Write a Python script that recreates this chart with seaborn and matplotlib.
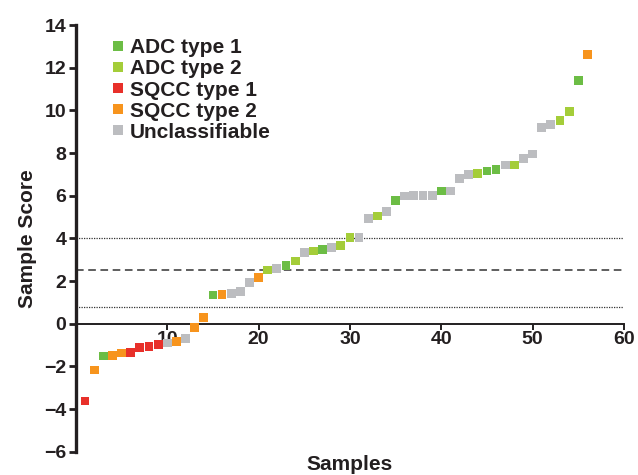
import matplotlib
matplotlib.use("Agg")
import matplotlib.pyplot as plt
import numpy as np
import pandas as pd
import seaborn as sns

SAMPLE_SCORES = [
    -3.62, -2.17, -1.51, -1.47, -1.37, -1.33, -1.12, -1.05, -0.98, -0.90,
    -0.85, -0.68, -0.19, 0.31, 1.35, 1.36, 1.42, 1.50, 1.92, 2.16,
    2.52, 2.60, 2.72, 2.94, 3.35, 3.41, 3.50, 3.56, 3.66, 4.05,
    4.06, 4.94, 5.05, 5.28, 5.78, 5.99, 6.02, 6.02, 6.02, 6.22,
    6.22, 6.80, 7.00, 7.05, 7.16, 7.25, 7.44, 7.44, 7.75, 7.96,
    9.19, 9.35, 9.52, 9.97, 11.42, 12.64,
]

A1, A2, S1, S2, U = "ADC type 1", "ADC type 2", "SQCC type 1", "SQCC type 2", "Unclassifiable"
SAMPLE_TYPES = [
    S1, S2, A1, S2, S2, S1, S1, S1, S1, U,
    S2, U, S2, S2, A1, S2, U, U, U, S2,
    A2, U, A1, A2, U, A2, A1, U, A2, A2,
    U, U, A2, U, A1, U, U, U, U, A1,
    U, U, U, A2, A1, A1, U, A2, U, U,
    U, U, A2, A2, A1, S2,
]

TYPE_ORDER = [A1, A2, S1, S2, U]
TYPE_COLORS = {
    A1: "#6cbd45",
    A2: "#a4cd39",
    S1: "#e8302a",
    S2: "#f7941d",
    U: "#bcbdc0",
}

CUTOFF_DOTTED = [4.0, 0.8]
CUTOFF_DASHED = [2.5]

X_TICKS = [10, 20, 30, 40, 50, 60]
Y_TICKS = [-6, -4, -2, 0, 2, 4, 6, 8, 10, 12, 14]

TEXT_COLOR = "#231f20"

sns.set_style("ticks")
plt.rcParams["font.family"] = ["Liberation Sans", "DejaVu Sans"]
plt.rcParams["font.weight"] = "bold"
plt.rcParams["axes.labelweight"] = "bold"

df = pd.DataFrame({
    "Sample": np.arange(1, len(SAMPLE_SCORES) + 1),
    "Score": SAMPLE_SCORES,
    "Type": SAMPLE_TYPES,
})

fig = plt.figure(figsize=(6.38, 4.75), dpi=100)
ax = fig.add_axes([0.119, 0.049, 0.859, 0.898])

for yv in CUTOFF_DOTTED:
    ax.axhline(yv, color="#333333", linestyle=(0, (1, 1)), linewidth=0.9, zorder=1)
for yv in CUTOFF_DASHED:
    ax.axhline(yv, color="#333333", linestyle=(0, (5, 3)), linewidth=1.1, zorder=1)

sns.scatterplot(
    data=df, x="Sample", y="Score", hue="Type", hue_order=TYPE_ORDER,
    palette=TYPE_COLORS, marker="s", s=40, linewidth=0, ax=ax, zorder=3,
)

ax.set_xlim(0, 60)
ax.set_ylim(-6, 14)
ax.set_xticks(X_TICKS)
ax.set_yticks(Y_TICKS)

ax.spines["top"].set_visible(False)
ax.spines["right"].set_visible(False)
ax.spines["bottom"].set_position(("data", 0))
ax.spines["left"].set_linewidth(2.4)
ax.spines["bottom"].set_linewidth(1.4)
ax.spines["left"].set_color(TEXT_COLOR)
ax.spines["bottom"].set_color(TEXT_COLOR)

ax.tick_params(axis="y", length=5, width=2, colors=TEXT_COLOR, labelsize=14, pad=2)
ax.tick_params(axis="x", length=4, width=1.4, colors=TEXT_COLOR, labelsize=14, pad=1)
for lab in ax.get_xticklabels() + ax.get_yticklabels():
    lab.set_fontweight("bold")

ax.set_xlabel("Samples", fontsize=15, color=TEXT_COLOR)
ax.set_ylabel("Sample Score", fontsize=15, color=TEXT_COLOR, labelpad=5)
ax.xaxis.set_label_coords(0.5, -0.008)

handles, labels = ax.get_legend_handles_labels()
leg = ax.legend(
    handles, labels, loc="upper left", bbox_to_anchor=(0.057, 0.969),
    frameon=False, fontsize=15, handletextpad=0.1, labelspacing=0.1,
    borderpad=0, borderaxespad=0, markerscale=1.2, handlelength=1.0,
)
for t in leg.get_texts():
    t.set_fontweight("bold")
    t.set_color(TEXT_COLOR)

fig.savefig("out.png", dpi=100)
